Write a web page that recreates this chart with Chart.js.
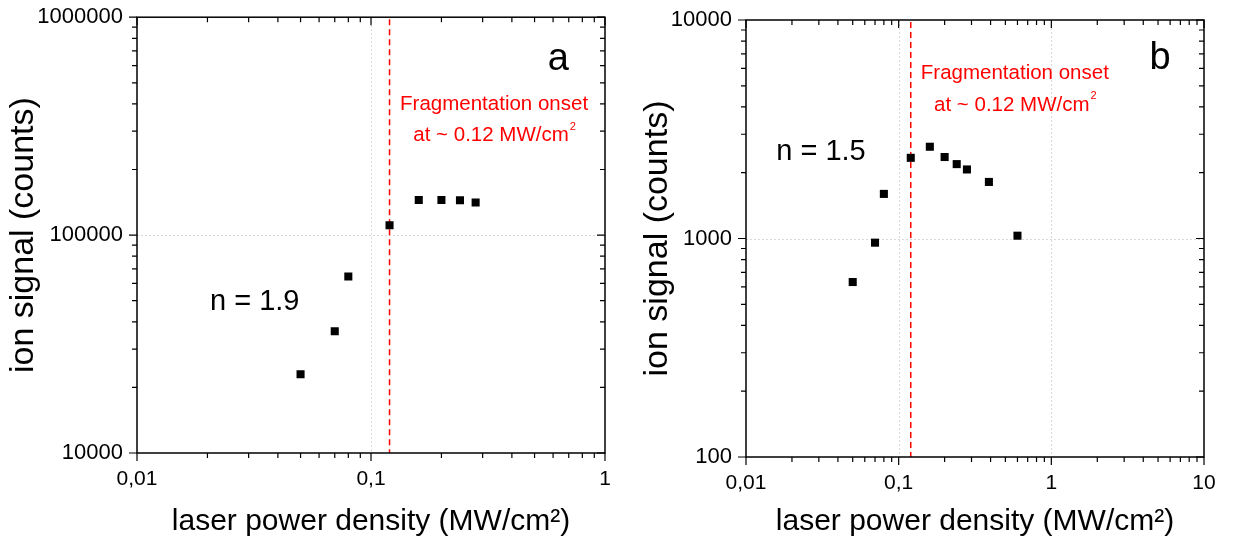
<!DOCTYPE html>
<html><head><meta charset="utf-8">
<script src="https://cdn.jsdelivr.net/npm/chart.js@4.4.0/dist/chart.umd.min.js"></script>
<style>
html,body{margin:0;padding:0;background:#fff;width:1233px;height:541px;overflow:hidden}
canvas{position:absolute;top:0}
#ca{left:0}
#cb{left:620px}
</style></head><body>
<canvas id="ca" width="620" height="541"></canvas>
<canvas id="cb" width="613" height="541"></canvas>
<script>
// ---------- data ----------
const powerA  = [0.05, 0.07, 0.08, 0.12, 0.16, 0.20, 0.24, 0.28];
const signalA = [23000, 36200, 64600, 111000, 145000, 145000, 144500, 141000];
const powerB  = [0.05, 0.07, 0.08, 0.12, 0.16, 0.20, 0.24, 0.28, 0.39, 0.60];
const signalB = [632, 957, 1600, 2340, 2630, 2360, 2190, 2070, 1815, 1030];
const xTicksA = [0.01, 0.1, 1];
const yTicksA = [10000, 100000, 1000000];
const xTicksB = [0.01, 0.1, 1, 10];
const yTicksB = [100, 1000, 10000];
const onsetX = 0.12;
const xTitle = 'laser power density (MW/cm\u00B2)';
const yTitle = 'ion signal (counts)';
const noteLine1 = 'Fragmentation onset';
const noteLine2 = 'at ~ 0.12 MW/cm';
const noteSup = '2';
const panelLabels = ['a', 'b'];
const slopeLabels = ['n = 1.9', 'n = 1.5'];

const FONT = '"Liberation Sans", Arial, Helvetica, sans-serif';

function fmtX(v){ return String(v).replace('.', ','); }

const originPlugin = {
  id: 'origin',
  beforeDatasetsDraw(chart, args, o) {
    const {ctx, chartArea: a, scales: {x, y}} = chart;
    ctx.save();
    ctx.strokeStyle = '#d8d8d8'; ctx.lineWidth = 1; ctx.setLineDash([2, 2]);
    o.xTicks.forEach(v => {
      const px = Math.round(x.getPixelForValue(v)) + 0.5;
      if (px > a.left + 3 && px < a.right - 3) { ctx.beginPath(); ctx.moveTo(px, a.top); ctx.lineTo(px, a.bottom); ctx.stroke(); }
    });
    o.yTicks.forEach(v => {
      const py = Math.round(y.getPixelForValue(v)) + 0.5;
      if (py > a.top + 3 && py < a.bottom - 3) { ctx.beginPath(); ctx.moveTo(a.left, py); ctx.lineTo(a.right, py); ctx.stroke(); }
    });
    // onset line
    const ox = x.getPixelForValue(onsetX);
    ctx.strokeStyle = '#ff0000'; ctx.lineWidth = 1.5; ctx.setLineDash([6, 4]);
    ctx.beginPath(); ctx.moveTo(ox, a.top + 2); ctx.lineTo(ox, a.bottom); ctx.stroke();
    ctx.restore();
  },
  afterDatasetsDraw(chart, args, o) {
    const {ctx, chartArea: a, scales: {x, y}} = chart;
    ctx.save();
    ctx.setLineDash([]);
    ctx.strokeStyle = '#000'; ctx.lineWidth = 1.5;
    ctx.strokeRect(a.left, a.top, a.right - a.left, a.bottom - a.top);
    const MAJ = 8, MIN = 5;
    ctx.lineWidth = 1.2;
    function ticksFor(scale, majors) {
      const out = [];
      const lo = scale.min, hi = scale.max;
      for (let d = majors[0]; d < hi * 1.0001; d *= 10) {
        out.push({v: d, major: true});
        for (let k = 2; k <= 9; k++) { const v = k * d; if (v < hi * 0.9999 && v > lo) out.push({v, major: false}); }
      }
      return out;
    }
    ticksFor(x, o.xTicks).forEach(t => {
      const px = x.getPixelForValue(t.v); const L = t.major ? MAJ : MIN;
      ctx.beginPath();
      ctx.moveTo(px, a.bottom); ctx.lineTo(px, a.bottom + L);
      ctx.moveTo(px, a.top); ctx.lineTo(px, a.top + L);
      ctx.stroke();
    });
    ticksFor(y, o.yTicks).forEach(t => {
      const py = y.getPixelForValue(t.v); const L = t.major ? MAJ : MIN;
      ctx.beginPath();
      ctx.moveTo(a.left, py); ctx.lineTo(a.left - L, py);
      ctx.moveTo(a.right, py); ctx.lineTo(a.right - L, py);
      ctx.stroke();
    });
    const W = a.right - a.left, H = a.bottom - a.top;
    // panel letter
    ctx.fillStyle = '#000'; ctx.textBaseline = 'middle'; ctx.textAlign = 'center';
    ctx.font = '38px ' + FONT;
    ctx.fillText(o.letter, a.left + o.letterPos[0] * W, a.top + o.letterPos[1] * H);
    // slope text
    ctx.textAlign = 'left'; ctx.font = '29px ' + FONT;
    ctx.fillText(o.slope, a.left + o.slopePos[0] * W, a.top + o.slopePos[1] * H);
    // red annotation
    ctx.fillStyle = '#ff0000'; ctx.font = '20.5px ' + FONT; ctx.textAlign = 'center';
    const cx = a.left + o.notePos[0] * W;
    ctx.fillText(noteLine1, cx, a.top + o.notePos[1] * H);
    const y2 = a.top + o.notePos[2] * H;
    const w1 = ctx.measureText(noteLine2).width;
    ctx.font = '11px ' + FONT;
    const w2 = ctx.measureText(noteSup).width;
    const start = cx - (w1 + w2) / 2;
    ctx.textAlign = 'left';
    ctx.font = '20.5px ' + FONT;
    ctx.fillText(noteLine2, start, y2);
    ctx.font = '11px ' + FONT;
    ctx.fillText(noteSup, start + w1 + 1, y2 - 9);
    ctx.restore();
  }
};

function makeChart(id, px, py, xMin, xMax, yMin, yMax, xT, yT, yWidth, xHeight, pad, yTitlePad, extra) {
  const data = px.map((p, i) => ({x: p, y: py[i]}));
  return new Chart(document.getElementById(id), {
    type: 'scatter',
    data: { datasets: [{ data, pointStyle: 'rect', pointRadius: 5.7, pointHoverRadius: 5.7,
      backgroundColor: '#000', borderColor: '#000', borderWidth: 0 }] },
    options: {
      responsive: false, animation: false, events: [],
      layout: { padding: pad },
      plugins: { legend: { display: false }, tooltip: { enabled: false },
        origin: Object.assign({ xTicks: xT, yTicks: yT }, extra) },
      scales: {
        x: { type: 'logarithmic', min: xMin, max: xMax,
          afterBuildTicks: s => { s.ticks = xT.map(v => ({value: v})); },
          afterFit: s => { s.height = xHeight; },
          ticks: { callback: v => fmtX(v), font: { family: FONT, size: 21 }, color: '#000', padding: 4, maxRotation: 0, autoSkip: false },
          grid: { drawOnChartArea: false, drawTicks: true, tickLength: 10, tickColor: 'rgba(0,0,0,0)' },
          border: { display: false },
          title: { display: true, text: xTitle, color: '#000', font: { family: FONT, size: 30, lineHeight: 1 }, padding: { top: 0, bottom: 4 } }
        },
        y: { type: 'logarithmic', min: yMin, max: yMax,
          afterBuildTicks: s => { s.ticks = yT.map(v => ({value: v})); },
          afterFit: s => { s.width = yWidth; },
          ticks: { callback: v => String(v), font: { family: FONT, size: 22 }, color: '#000', padding: 4, autoSkip: false },
          grid: { drawOnChartArea: false, drawTicks: true, tickLength: 10, tickColor: 'rgba(0,0,0,0)' },
          border: { display: false },
          title: { display: true, text: yTitle, color: '#000', font: { family: FONT, size: 34, lineHeight: 1 }, padding: { top: yTitlePad, bottom: 0 } }
        }
      }
    },
    plugins: [originPlugin]
  });
}

makeChart('ca', powerA, signalA, 0.01, 1, 10000, 1000000, xTicksA, yTicksA, 137, 88,
  { left: 0, top: 16, right: 15, bottom: 0 }, 7,
  { letter: panelLabels[0], letterPos: [0.90, 0.098], slope: slopeLabels[0], slopePos: [0.156, 0.654], notePos: [0.763, 0.199, 0.272] });

makeChart('cb', powerB, signalB, 0.01, 10, 100, 10000, xTicksB, yTicksB, 126, 84,
  { left: 0, top: 20, right: 29, bottom: 0 }, 21,
  { letter: panelLabels[1], letterPos: [0.904, 0.089], slope: slopeLabels[1], slopePos: [0.066, 0.302], notePos: [0.587, 0.121, 0.195] });
</script>
</body></html>
